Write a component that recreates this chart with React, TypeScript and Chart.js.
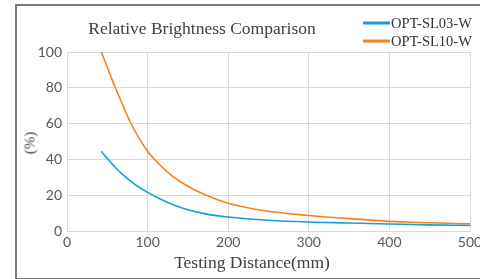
import React, { useEffect, useRef } from "react";
import { Chart, registerables } from "chart.js";

Chart.register(...registerables);

const distances = [42.5, 50, 60, 70, 80, 90, 100, 115, 130, 150, 175, 200, 250, 300, 350, 400, 450, 500];
const sl03Values = [44.5, 40.5, 35.5, 31.2, 27.5, 24.3, 21.6, 18, 15, 11.9, 9.3, 7.8, 6, 5, 4.5, 3.9, 3.4, 3.1];
const sl10Values = [100, 91.5, 80, 69.5, 59.5, 51.5, 44.5, 37, 31, 25, 19.5, 15.5, 11, 8.7, 6.9, 5.4, 4.6, 4];
const seriesNames = ["OPT-SL03-W", "OPT-SL10-W"];
const seriesColors = ["#1a9ddb", "#f5821f"];
const titleText = "Relative Brightness Comparison";
const xTitle = "Testing Distance(mm)";
const yTitle = "(%)";

export default function App() {
  const canvasRef = useRef<HTMLCanvasElement | null>(null);

  useEffect(() => {
    const ctx = canvasRef.current;
    if (!ctx) return;
    const toPts = (vals: number[]) => distances.map((d, i) => ({ x: d, y: vals[i] }));
    const chart = new Chart(ctx, {
      type: "line",
      data: {
        datasets: [
          {
            label: seriesNames[0],
            data: toPts(sl03Values),
            borderColor: seriesColors[0],
            backgroundColor: seriesColors[0],
            borderWidth: 1.6,
            pointRadius: 0,
            cubicInterpolationMode: "monotone",
          },
          {
            label: seriesNames[1],
            data: toPts(sl10Values),
            borderColor: seriesColors[1],
            backgroundColor: seriesColors[1],
            borderWidth: 1.6,
            pointRadius: 0,
            cubicInterpolationMode: "monotone",
          },
        ],
      },
      options: {
        animation: false,
        responsive: false,
        maintainAspectRatio: false,
        layout: { padding: { left: 0, right: 10, top: 52, bottom: 0 } },
        plugins: { legend: { display: false }, title: { display: false }, tooltip: { enabled: false } },
        scales: {
          x: {
            type: "linear",
            min: 0,
            max: 500,
            ticks: { stepSize: 100, color: "#595959", font: { family: "Lato", size: 14 }, padding: 3, maxRotation: 0 },
            grid: { color: "#d9d9d9", drawTicks: false, lineWidth: 1 },
            border: { color: "#d9d9d9" },
            afterFit: (s: any) => {
              s.height = 48;
              s.paddingLeft = 0;
              s.paddingRight = 0;
            },
          },
          y: {
            min: 0,
            max: 100,
            ticks: { stepSize: 20, color: "#595959", font: { family: "Lato", size: 14 }, padding: 5 },
            grid: { color: "#d9d9d9", drawTicks: false, lineWidth: 1 },
            border: { color: "#d9d9d9" },
            afterFit: (s: any) => {
              s.width = 67;
              s.paddingTop = 0;
              s.paddingBottom = 0;
            },
          },
        },
      },
    } as any);
    return () => chart.destroy();
  }, []);

  const serif = "'Liberation Serif', 'Times New Roman', serif";

  return (
    <div style={{ position: "fixed", left: 0, top: 0, width: 480, height: 279, overflow: "hidden", background: "#fff" }}>
      <div
        style={{
          position: "absolute",
          left: 15,
          top: 4,
          width: 480,
          height: 272,
          border: "2px solid #7a7a7a",
          boxSizing: "content-box",
        }}
      />
      <canvas ref={canvasRef} width={480} height={279} style={{ position: "absolute", left: 0, top: 0, width: 480, height: 279 }} />
      <div
        style={{
          position: "absolute",
          left: 202,
          top: 28,
          transform: "translate(-50%, -50%)",
          fontFamily: serif,
          fontSize: 17.5,
          color: "#404040",
          whiteSpace: "nowrap",
        }}
      >
        {titleText}
      </div>
      {seriesNames.map((name, i) => (
        <div
          key={name}
          style={{
            position: "absolute",
            left: 363,
            top: 23 + i * 17.5,
            transform: "translateY(-50%)",
            display: "flex",
            alignItems: "center",
            fontFamily: serif,
            fontSize: 14.5,
            color: "#333",
            whiteSpace: "nowrap",
          }}
        >
          <span style={{ display: "inline-block", width: 27, height: 3, background: seriesColors[i], marginRight: 1 }} />
          {name}
        </div>
      ))}
      <div
        style={{
          position: "absolute",
          left: 252,
          top: 262,
          transform: "translate(-50%, -50%)",
          fontFamily: serif,
          fontSize: 17.5,
          color: "#404040",
          whiteSpace: "nowrap",
        }}
      >
        {xTitle}
      </div>
      <div
        style={{
          position: "absolute",
          left: 30,
          top: 143,
          transform: "translate(-50%, -50%) rotate(-90deg)",
          fontFamily: serif,
          fontSize: 15,
          color: "#404040",
          whiteSpace: "nowrap",
        }}
      >
        {yTitle}
      </div>
    </div>
  );
}
